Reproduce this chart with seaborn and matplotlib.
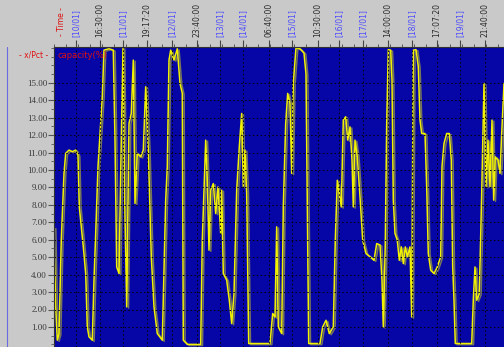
import matplotlib
matplotlib.use("Agg")
import matplotlib.pyplot as plt
import matplotlib.patheffects as pe
from matplotlib.lines import Line2D
from matplotlib.ticker import MultipleLocator, FixedLocator
import seaborn as sns
import pandas as pd

# sample position (time step) and capacity reading
time_step = [
    0, 1.7, 3.3, 5, 7.3, 10, 11.7, 15, 18.3, 21.7, 24, 25.3, 27.3, 29.3, 31.7, 33.3,
    35, 38.3, 40, 41.7, 44, 46.7, 48.3, 50, 55, 59.3, 61, 62.7, 65, 66.7, 69, 70.7,
    72.7, 75, 77.3, 79.3, 81, 83.3, 86.7, 89.3, 91.7, 94.3, 97.3, 100, 103.3, 108.3,
    111.7, 113.3, 115, 116.7, 120, 123.3, 126, 128.3, 129.3, 133.3, 146.7, 148.3,
    151.7, 153.3, 155, 156.7, 159.3, 161.7, 164, 166.7,
    167.7, 169.3, 172.7, 175.3, 177.7, 180, 182.7, 185.3, 187.7, 189.3, 191, 192.7,
    194.7, 216, 218.7, 221, 222.7, 224.3, 227.7, 229.3, 231.7, 233.7, 236, 237.7,
    239.3, 242, 246, 250, 252, 253.3, 254.7, 266, 268.7, 272, 275.3, 279.3, 281.3,
    283.3, 285.3, 287.3, 289.3, 291.7, 293.7, 296, 298, 299.3, 301, 303.3, 306,
    308.7, 312, 316, 320, 322.7, 326, 328, 329.3, 331.3, 332.7,
    334.3, 336.7, 338, 339.3, 341, 343.3, 345.3, 347.3, 349.3, 351.3, 353.3, 356,
    357.7, 359.3, 362, 364.3, 366, 367.7, 371, 372.7, 374.3, 376.7, 380, 383.3,
    386.7, 388, 390, 392.7, 395.3, 397.3, 398.7, 400, 401.3, 417.7, 419.3, 421,
    422.7, 425.3, 427.7, 430, 432, 434, 436, 438, 439.7, 441.3, 444, 446, 447.7, 450,
]
capacity = [
    6.7, 2.15, 0.24, 0.6, 6.0, 9.8, 10.95, 11.14, 11.05, 11.14, 10.85, 7.88, 6.74,
    5.6, 4.06, 1.0, 0.43, 0.24, 3.68, 6.36, 10.18, 12.67, 14.19, 16.87, 16.95, 16.87,
    11.71, 4.44, 4.06, 9.8, 17.0, 8.27, 2.15, 12.67, 13.24, 16.3, 8.08, 10.95, 10.75,
    11.14, 14.77, 11.14, 5.02, 2.15, 0.62, 0.24, 8.27, 10.18, 16.3, 16.87, 16.3,
    16.95, 14.96, 14.39, 0.24, 0.0, 0.0, 5.97, 11.71, 9.41, 5.4, 8.84, 9.22, 7.5,
    9.03, 6.36,
    8.84, 4.06, 3.68, 2.53, 1.19, 2.91, 8.84, 11.33, 13.24, 9.03, 11.14, 8.65, 0.05,
    0.05, 1.77, 1.57, 6.74, 1.0, 0.62, 7.88, 12.67, 14.39, 13.81, 9.8, 14.96, 17.0,
    16.95, 16.7, 15.5, 8.27, 0.05, 0.05, 1.0, 1.38, 0.62, 1.0, 5.97, 9.41, 8.65,
    7.88, 12.86, 13.05, 11.71, 12.47, 10.56, 7.88, 11.71, 10.75, 8.46, 5.97, 5.21,
    5.02, 4.82, 5.78, 5.7, 3.68, 1.0, 5.78, 12.67,
    16.9, 16.87, 15.15, 8.27, 6.36, 5.97, 4.82, 5.59, 4.63, 5.59, 5.02, 5.59, 1.57,
    16.87, 16.9, 15.92, 12.86, 12.09, 12.09, 9.03, 5.21, 4.25, 4.06, 4.44, 5.02,
    10.18, 11.52, 12.09, 12.09, 10.56, 4.44, 2.53, 0.05, 0.05, 2.53, 4.44, 2.53,
    2.9, 8.65, 14.96, 9.03, 11.71, 9.03, 12.86, 8.27, 10.75, 10.56, 9.8, 12.09, 14.96,
]

# time axis marks along the top edge: dates in blue, clock times in black
top_positions = [22, 46, 69, 93, 118, 143, 166, 189, 215, 238, 264, 285, 309,
                 334, 358, 383, 406, 431]
top_labels = ["[10/01]", "16:30:00", "[11/01]", "19:17:20", "[12/01]", "23:40:00",
              "[13/01]", "[14/01]", "06:40:00", "[15/01]", "10:30:00", "[16/01]",
              "[17/01]", "14:00:00", "[18/01]", "17:07:20", "[19/01]", "21:40:00"]
top_is_date = [lab.startswith("[") for lab in top_labels]

y_ticks = list(range(1, 16))
y_tick_labels = [f"{v}.00" for v in y_ticks]

sns.set_theme(style="white")
plt.rcParams["font.family"] = ["Liberation Serif", "DejaVu Serif"]

panel_grey = "#c9c9c9"
fig = plt.figure(figsize=(5.04, 3.47), dpi=100, facecolor=panel_grey)
ax = fig.add_axes([54 / 504, 0.0, 450 / 504, 300 / 347])
ax.set_facecolor("#0606a6")

df = pd.DataFrame({"step": time_step, "capacity": capacity})
sns.lineplot(data=df, x="step", y="capacity", ax=ax, estimator=None, sort=False,
             color="#f2f200", linewidth=1.1,
             path_effects=[pe.SimpleLineShadow(offset=(1.3, -0.8),
                                               shadow_color="#76765a", alpha=1.0),
                           pe.Normal()])

ax.set_xlim(0, 450)
ax.set_ylim(-0.15, 17.05)

# y axis on the left, grey serif labels
ax.yaxis.set_major_locator(FixedLocator(y_ticks))
ax.set_yticklabels(y_tick_labels, fontsize=6.5, color="#3a3a3a")
ax.yaxis.set_minor_locator(MultipleLocator(0.5))
ax.tick_params(axis="y", which="major", length=4, width=0.8, color="#555555",
               direction="out", pad=1, left=True)
ax.tick_params(axis="y", which="minor", length=2, width=0.6, color="#555555",
               direction="out", left=True)

# time axis on the top
ax.xaxis.tick_top()
ax.xaxis.set_major_locator(FixedLocator(top_positions))
ax.set_xticklabels(top_labels, rotation=90, fontsize=5.5,
                   family=["DejaVu Sans"], va="bottom")
for lab, is_date in zip(ax.get_xticklabels(), top_is_date):
    lab.set_color("#4a4aff" if is_date else "#2a2a2a")
ax.xaxis.set_minor_locator(MultipleLocator(12))
ax.tick_params(axis="x", which="major", length=5, width=0.8, color="#444444",
               direction="out", pad=2, top=True, bottom=False)
ax.tick_params(axis="x", which="minor", length=2, width=0.6, color="#444444",
               direction="out", top=True, bottom=False)
ax.set_xlabel("")
ax.set_ylabel("")

ax.grid(True, which="major", color="#000000", linestyle=(0, (1.5, 2.5)),
        linewidth=0.7)
ax.set_axisbelow(False)
for gl in ax.get_xgridlines() + ax.get_ygridlines():
    gl.set_zorder(1.5)

for side in ("right", "bottom"):
    ax.spines[side].set_visible(False)
for side in ("left", "top"):
    ax.spines[side].set_color("#303030")
    ax.spines[side].set_linewidth(0.8)

# captions in red
ax.text(0.008, 0.985, "capacity(%)", transform=ax.transAxes, color="#e01010",
        fontsize=6, va="top", ha="left", family=["DejaVu Sans"])
fig.text(48 / 504, 1 - 55 / 347, "- x/Pct -", color="#e01010", fontsize=5.5,
         ha="right", va="center", family=["DejaVu Sans"])
fig.text(61 / 504, 1 - 22 / 347, "- Time -", color="#e01010", fontsize=5.5,
         rotation=90, ha="center", va="center", family=["DejaVu Sans"])

# window frame edge on the left
fig.add_artist(Line2D([7 / 504, 7 / 504], [0, 1 - 47 / 347], color="#6a6ae0",
                      linewidth=0.8, transform=fig.transFigure))

fig.savefig("out.png", dpi=100, facecolor=panel_grey)
